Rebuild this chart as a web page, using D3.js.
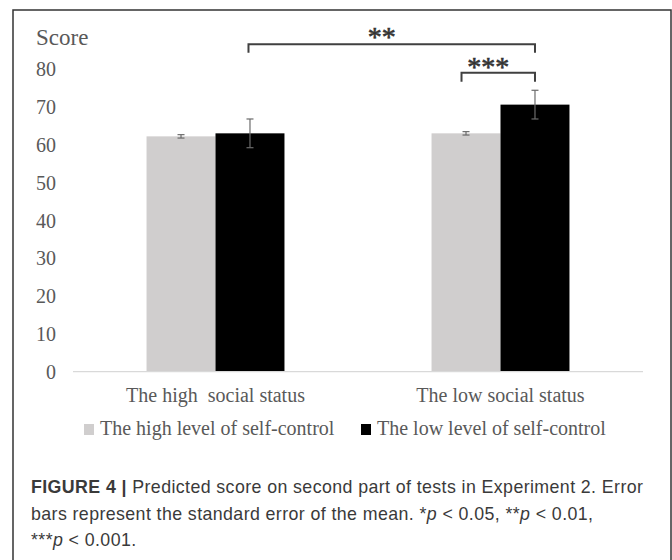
<!DOCTYPE html>
<html>
<head>
<meta charset="utf-8">
<script src="https://cdn.jsdelivr.net/npm/d3@7"></script>
<style>
  html, body { margin: 0; padding: 0; background: #fff; }
  svg { display: block; }
</style>
</head>
<body>
<svg id="chart" width="672" height="560"></svg>
<script>
// ---- Data ----
const categories = ["The high  social status", "The low social status"];
const seriesNames = ["The high level of self-control", "The low level of self-control"];
const highSelfControl = [62.3, 63.1];
const lowSelfControl = [63.1, 70.7];
const highSelfControlSE = [0.45, 0.45];
const lowSelfControlSE = [3.8, 3.8];
const yTicks = [0, 10, 20, 30, 40, 50, 60, 70, 80];
const sigLabels = ["**", "***"];
const captionLines = [
  [{t: "FIGURE 4 | ", b: true}, {t: "Predicted score on second part of tests in Experiment 2. Error"}],
  [{t: "bars represent the standard error of the mean. *"}, {t: "p", i: true}, {t: " < 0.05, **"}, {t: "p", i: true}, {t: " < 0.01,"}],
  [{t: "***"}, {t: "p", i: true}, {t: " < 0.001."}]
];

// ---- Layout ----
const svg = d3.select("#chart");
const serif = "'Liberation Serif', 'Times New Roman', serif";
const textColor = "#595959";
const seriesColors = ["#d0cece", "#000000"];

svg.append("rect").attr("x", 13).attr("y", 10).attr("width", 658).attr("height", 600)
  .attr("fill", "none").attr("stroke", "#333").attr("stroke-width", 1.5);

const plotLeft = 73, plotRight = 643;
const y = d3.scaleLinear().domain([0, 80]).range([371.7, 69.5]);
const x0 = d3.scaleBand().domain(categories).range([plotLeft, plotRight]).padding(0);
const barW = x0.bandwidth() * 0.242;
const x1 = d3.scaleBand().domain(seriesNames).range([-barW, barW]).padding(0);

const seriesData = [
  {name: seriesNames[0], values: highSelfControl, se: highSelfControlSE},
  {name: seriesNames[1], values: lowSelfControl, se: lowSelfControlSE}
];
const barCenter = (gi, si) => x0(categories[gi]) + x0.bandwidth() / 2 + x1(seriesNames[si]) + x1.bandwidth() / 2;

// Y axis
const yAxis = d3.axisLeft(y).tickValues(yTicks).tickSize(0).tickPadding(17).tickFormat(d3.format("d"));
const yg = svg.append("g").attr("transform", `translate(${plotLeft},0)`).call(yAxis);
yg.select(".domain").remove();
yg.selectAll("text").attr("font-family", serif).attr("font-size", 20).attr("fill", textColor).attr("dy", "0.32em");

svg.append("text").attr("x", 36).attr("y", 45).text("Score")
  .attr("font-family", serif).attr("font-size", 23).attr("fill", textColor);

// Bars
seriesData.forEach((s, si) => {
  svg.append("g").selectAll("rect").data(s.values).join("rect")
    .attr("x", (d, gi) => x0(categories[gi]) + x0.bandwidth() / 2 + x1(s.name))
    .attr("y", d => y(d))
    .attr("width", x1.bandwidth())
    .attr("height", d => y(0) - y(d))
    .attr("fill", seriesColors[si]);
});

// X axis line
svg.append("line").attr("x1", plotLeft).attr("x2", plotRight).attr("y1", y(0)).attr("y2", y(0))
  .attr("stroke", "#d9d9d9").attr("stroke-width", 1.2);

// Error bars
seriesData.forEach((s, si) => {
  s.values.forEach((v, gi) => {
    const cx = barCenter(gi, si);
    const g = svg.append("g").attr("stroke", "#6b6b6b").attr("stroke-width", 1.2);
    g.append("line").attr("x1", cx).attr("x2", cx).attr("y1", y(v + s.se[gi])).attr("y2", y(v - s.se[gi]));
    [v + s.se[gi], v - s.se[gi]].forEach(e => {
      g.append("line").attr("x1", cx - 3.5).attr("x2", cx + 3.5).attr("y1", y(e)).attr("y2", y(e));
    });
  });
});

// X labels
const xAxis = d3.axisBottom(x0).tickSize(0).tickPadding(0);
const xg = svg.append("g").attr("transform", `translate(0,${y(0)})`).call(xAxis);
xg.select(".domain").remove();
xg.selectAll("text").attr("font-family", serif).attr("font-size", 20).attr("fill", textColor)
  .attr("dy", null).attr("y", 30.5).style("white-space", "pre");

// Significance brackets
const brackets = [
  {from: [0, 1], to: [1, 1], top: 44.3, drop: 8.5, label: sigLabels[0], textY: 46},
  {from: [1, 0], to: [1, 1], top: 72.7, drop: 9, label: sigLabels[1], textY: 76}
];
brackets.forEach((b, i) => {
  const xa = barCenter(b.from[0], b.from[1]) - (i === 1 ? 4.5 : 1.5);
  const xb = barCenter(b.to[0], b.to[1]);
  svg.append("path")
    .attr("d", `M${xa},${b.top + b.drop}V${b.top}H${xb}V${b.top + b.drop}`)
    .attr("fill", "none").attr("stroke", "#404040").attr("stroke-width", 2);
  svg.append("text").attr("x", (xa + xb) / 2 - 10).attr("y", b.textY)
    .attr("text-anchor", "middle").attr("font-family", serif)
    .attr("font-size", 28).attr("fill", "#333").attr("stroke", "#333").attr("stroke-width", 0.6)
    .text(b.label);
});

// Legend
const legendItems = [
  {name: seriesNames[0], color: seriesColors[0], x: 84},
  {name: seriesNames[1], color: seriesColors[1], x: 361}
];
const lg = svg.append("g").selectAll("g").data(legendItems).join("g")
  .attr("transform", d => `translate(${d.x},424)`);
lg.append("rect").attr("width", 10).attr("height", 11).attr("fill", d => d.color);
lg.append("text").attr("x", 16).attr("y", 11).text(d => d.name)
  .attr("font-family", serif).attr("font-size", 20).attr("fill", textColor);

// Caption
const cap = svg.append("text").attr("font-family", "'Liberation Sans', Arial, sans-serif")
  .attr("font-size", 17.8).attr("letter-spacing", 0.4).attr("fill", "#3a3a3a");
captionLines.forEach((line, li) => {
  line.forEach((seg, k) => {
    const ts = cap.append("tspan").text(seg.t);
    if (k === 0) ts.attr("x", 31).attr("y", 493 + li * 26.5);
    if (seg.b) ts.attr("font-weight", "bold");
    if (seg.i) ts.attr("font-style", "italic");
  });
});
</script>
</body>
</html>
